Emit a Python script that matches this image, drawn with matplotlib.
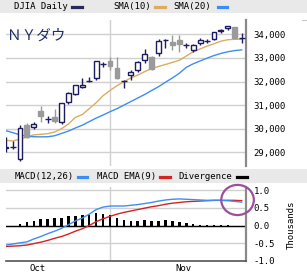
import matplotlib
matplotlib.use('Agg')
import matplotlib.pyplot as plt
import numpy as np
from matplotlib.patches import Rectangle, Ellipse
from matplotlib.lines import Line2D

# --- data (DJIA daily, Oct 11 - Nov 29) ---
dates = ['10-11', '10-12', '10-13', '10-14', '10-17', '10-18', '10-19', '10-20',
         '10-21', '10-24', '10-25', '10-26', '10-27', '10-28', '10-31', '11-01',
         '11-02', '11-03', '11-04', '11-07', '11-08', '11-09', '11-10', '11-11',
         '11-14', '11-15', '11-16', '11-17', '11-18', '11-21', '11-22', '11-23',
         '11-25', '11-28', '11-29']
opens = [29172, 29211, 28720, 30160, 30060, 30750, 30424, 30480,
         30280, 31130, 31450, 31760, 32033, 32150, 32733, 32870,
         32560, 32001, 32270, 32490, 32910, 33030, 33200, 33748,
         33690, 33760, 33554, 33330, 33620, 33700, 33800, 34120,
         34250, 34300, 33853]
highs = [29630, 29460, 30150, 30230, 30300, 30950, 30530, 30830,
         31100, 31540, 31870, 32150, 32180, 32880, 32810, 33030,
         33030, 32080, 32490, 32880, 33360, 33060, 33790, 33790,
         33970, 33970, 33650, 33600, 33850, 33790, 34110, 34240,
         34370, 34320, 34040]
lows = [29030, 29140, 28640, 29600, 29980, 30300, 30250, 30230,
        30200, 31050, 31420, 31720, 31970, 32080, 32620, 32480,
        32100, 31710, 32060, 32420, 32780, 32480, 33100, 33400,
        33340, 33270, 33420, 33240, 33560, 33620, 33760, 34050,
        34200, 33800, 33620]
closes = [29239, 29211, 30039, 29635, 30186, 30524, 30424, 30334,
          31083, 31500, 31837, 31839, 32033, 32862, 32733, 32653,
          32148, 32001, 32403, 32827, 33161, 32514, 33715, 33748,
          33537, 33593, 33554, 33546, 33746, 33700, 34098, 34194,
          34347, 33849, 33853]
sma10 = [29510, 29480, 29560, 29650, 29740, 29760, 29790, 29860,
         30000, 30200, 30480, 30600, 30850, 31100, 31400, 31620,
         31820, 31990, 32150, 32270, 32420, 32550, 32640, 32720,
         32810, 32900, 33080, 33260, 33380, 33500, 33600, 33710,
         33770, 33790, 33790]
sma20 = [29915, 29830, 29740, 29680, 29660, 29655, 29660, 29700,
         29800, 29900, 30030, 30150, 30300, 30450, 30580, 30720,
         30850, 31000, 31150, 31300, 31450, 31620, 31780, 31970,
         32150, 32350, 32600, 32750, 32870, 32990, 33100, 33190,
         33260, 33310, 33340]
macd = [-0.55, -0.52, -0.49, -0.46, -0.38, -0.31, -0.23, -0.16,
        -0.08, 0.02, 0.13, 0.21, 0.32, 0.45, 0.52, 0.55,
        0.55, 0.55, 0.57, 0.59, 0.62, 0.65, 0.69, 0.72,
        0.74, 0.75, 0.74, 0.73, 0.72, 0.71, 0.71, 0.71,
        0.70, 0.68, 0.66]
macd_ema = [-0.59, -0.58, -0.57, -0.55, -0.51, -0.47, -0.42, -0.36,
            -0.31, -0.24, -0.16, -0.09, 0.00, 0.11, 0.19, 0.26,
            0.32, 0.37, 0.41, 0.45, 0.49, 0.53, 0.56, 0.60,
            0.63, 0.65, 0.67, 0.68, 0.69, 0.70, 0.71, 0.71,
            0.71, 0.71, 0.70]
divergence = [0.0, 0.0, 0.056, 0.10, 0.12, 0.17, 0.19, 0.20,
              0.20, 0.26, 0.28, 0.29, 0.29, 0.34, 0.33, 0.29,
              0.22, 0.15, 0.14, 0.14, 0.15, 0.12, 0.14, 0.15,
              0.12, 0.09, 0.06, 0.03, 0.02, 0.005, 0.005, 0.005,
              0.005, 0.0, -0.012]
price_ticks = [29000, 30000, 31000, 32000, 33000, 34000]
macd_ticks = [-1.0, -0.5, 0.0, 0.5, 1.0]
month_labels = ['Oct', 'Nov']
month_label_dates = ['10-17', '11-15']

W, H = 307, 279
fig = plt.figure(figsize=(W / 100, H / 100), dpi=100)
plt.rcParams['font.family'] = ['DejaVu Sans Mono']
FS = 6.5


def fx(px):
    return px / W


def fy(py):
    return 1 - py / H


navy = '#1c1c5e'
gray = '#9a9a9a'
grid_c = '#d0d0d0'
tan = '#dcac60'
blue = '#3d8ef2'
red = '#d42323'

x = np.arange(len(dates))
o = np.array(opens, float)
c = np.array(closes, float)
up = c >= o
nov_start = dates.index('11-01')

# --- price panel ---
ax = fig.add_axes([fx(6), fy(166), fx(246) - fx(6), fy(20) - fy(166)])
ax.set_xlim(-0.01, 34.62)
ax.set_ylim(28420, 34606)
ax.set_axisbelow(True)
ax.grid(axis='y', color=grid_c, lw=1.0)
ax.axvline(nov_start, color=grid_c, lw=1.0, zorder=0)

ax.plot(x, sma10, color=tan, lw=1.0, zorder=2)
ax.plot(x, sma20, color=blue, lw=1.0, zorder=2)

ax.vlines(x, lows, highs, colors=[navy if u else gray for u in up], lw=1.0, zorder=3)
body = np.abs(c - o)
doji = body == 0
ax.bar(x[~doji], body[~doji], bottom=np.minimum(o, c)[~doji], width=0.7,
       color=['white' if u else gray for u in up[~doji]],
       edgecolor=[navy if u else gray for u in up[~doji]], lw=1.0, zorder=4)
ax.hlines(c[doji], x[doji] - 0.42, x[doji] + 0.42, colors=navy, lw=1.0, zorder=4)

for s in ['top', 'left', 'bottom']:
    ax.spines[s].set_visible(False)
ax.spines['right'].set_color('#8a8a8a')
ax.spines['right'].set_linewidth(1.6)
ax.yaxis.tick_right()
ax.set_yticks(price_ticks)
ax.set_yticklabels([f'{t:,}' for t in price_ticks])
ax.tick_params(axis='y', length=0, pad=5.5, labelsize=FS, colors='black')
ax.set_xticks([])

# --- MACD panel ---
ax2 = fig.add_axes([fx(6), fy(261), fx(246) - fx(6), fy(186.5) - fy(261)])
ax2.set_xlim(-0.01, 34.62)
ax2.set_ylim(-1.0, 1.1)
ax2.set_axisbelow(True)
ax2.set_yticks(macd_ticks)
ax2.set_yticklabels([f'{t:.1f}' for t in macd_ticks])
ax2.grid(axis='y', color=grid_c, lw=1.0)
ax2.axvline(nov_start, color=grid_c, lw=1.0, zorder=0)
ax2.axhline(0, color='black', lw=1.0, zorder=2)
ax2.bar(x, divergence, width=0.36, color='black', zorder=3)
ax2.plot(x, macd_ema, color=red, lw=1.0, zorder=4)
ax2.plot(x, macd, color=blue, lw=1.0, zorder=5)

for s in ['top', 'left']:
    ax2.spines[s].set_visible(False)
ax2.spines['right'].set_color('#8a8a8a')
ax2.spines['right'].set_linewidth(1.6)
ax2.spines['bottom'].set_color('#555555')
ax2.spines['bottom'].set_linewidth(1.2)
ax2.yaxis.tick_right()
ax2.tick_params(axis='y', length=0, pad=5.5, labelsize=FS)
ax2.set_xticks([dates.index(d) + 0.6 for d in month_label_dates])
ax2.set_xticklabels(month_labels)
ax2.tick_params(axis='x', length=0, pad=2.5, labelsize=FS)

# highlight circle around latest MACD
ax2.add_patch(Ellipse((x[-1] - 0.6, macd[-1] + 0.06), 4.7, 0.85, fill=False,
                      edgecolor='#9c4f9c', lw=1.6, clip_on=False, zorder=6))

fig.text(fx(291.7), fy(225), 'Thousands', rotation=90, ha='center', va='center',
         fontsize=FS)

# --- legend bars ---
fig.patches.append(Rectangle((0, fy(12.5)), 1, 12.5 / H, transform=fig.transFigure,
                             facecolor='#e9e9e9', edgecolor='none', zorder=0))
fig.patches.append(Rectangle((0, fy(183)), 1, 14 / H, transform=fig.transFigure,
                             facecolor='#e9e9e9', edgecolor='none', zorder=0))


def legend_item(tx, label, d0, d1, yc, color):
    fig.text(fx(tx), fy(yc), label, ha='left', va='center', fontsize=FS)
    fig.add_artist(Line2D([fx(d0), fx(d1)], [fy(yc), fy(yc)], color=color, lw=2.3,
                          transform=fig.transFigure))


legend_item(14, 'DJIA Daily', 72, 82, 6.5, '#2a2a5a')
legend_item(113, 'SMA(10)', 155, 165, 6.5, tan)
legend_item(173, 'SMA(20)', 218, 227, 6.5, blue)
legend_item(15, 'MACD(12,26)', 78, 87, 176.5, blue)
legend_item(97, 'MACD EMA(9)', 160, 170, 176.5, red)
legend_item(178, 'Divergence', 237, 247, 176.5, 'black')

fig.add_artist(Line2D([fx(302), fx(307)], [fy(20), fy(20)], color='#c8c8c8', lw=0.8,
                      transform=fig.transFigure))

# title
fig.text(fx(7), fy(36), 'ＮＹダウ', ha='left', va='center', fontsize=10.5,
         color='#1f2d6b', family=['Noto Sans CJK JP', 'DejaVu Sans'])

fig.savefig('out.png', dpi=100)
